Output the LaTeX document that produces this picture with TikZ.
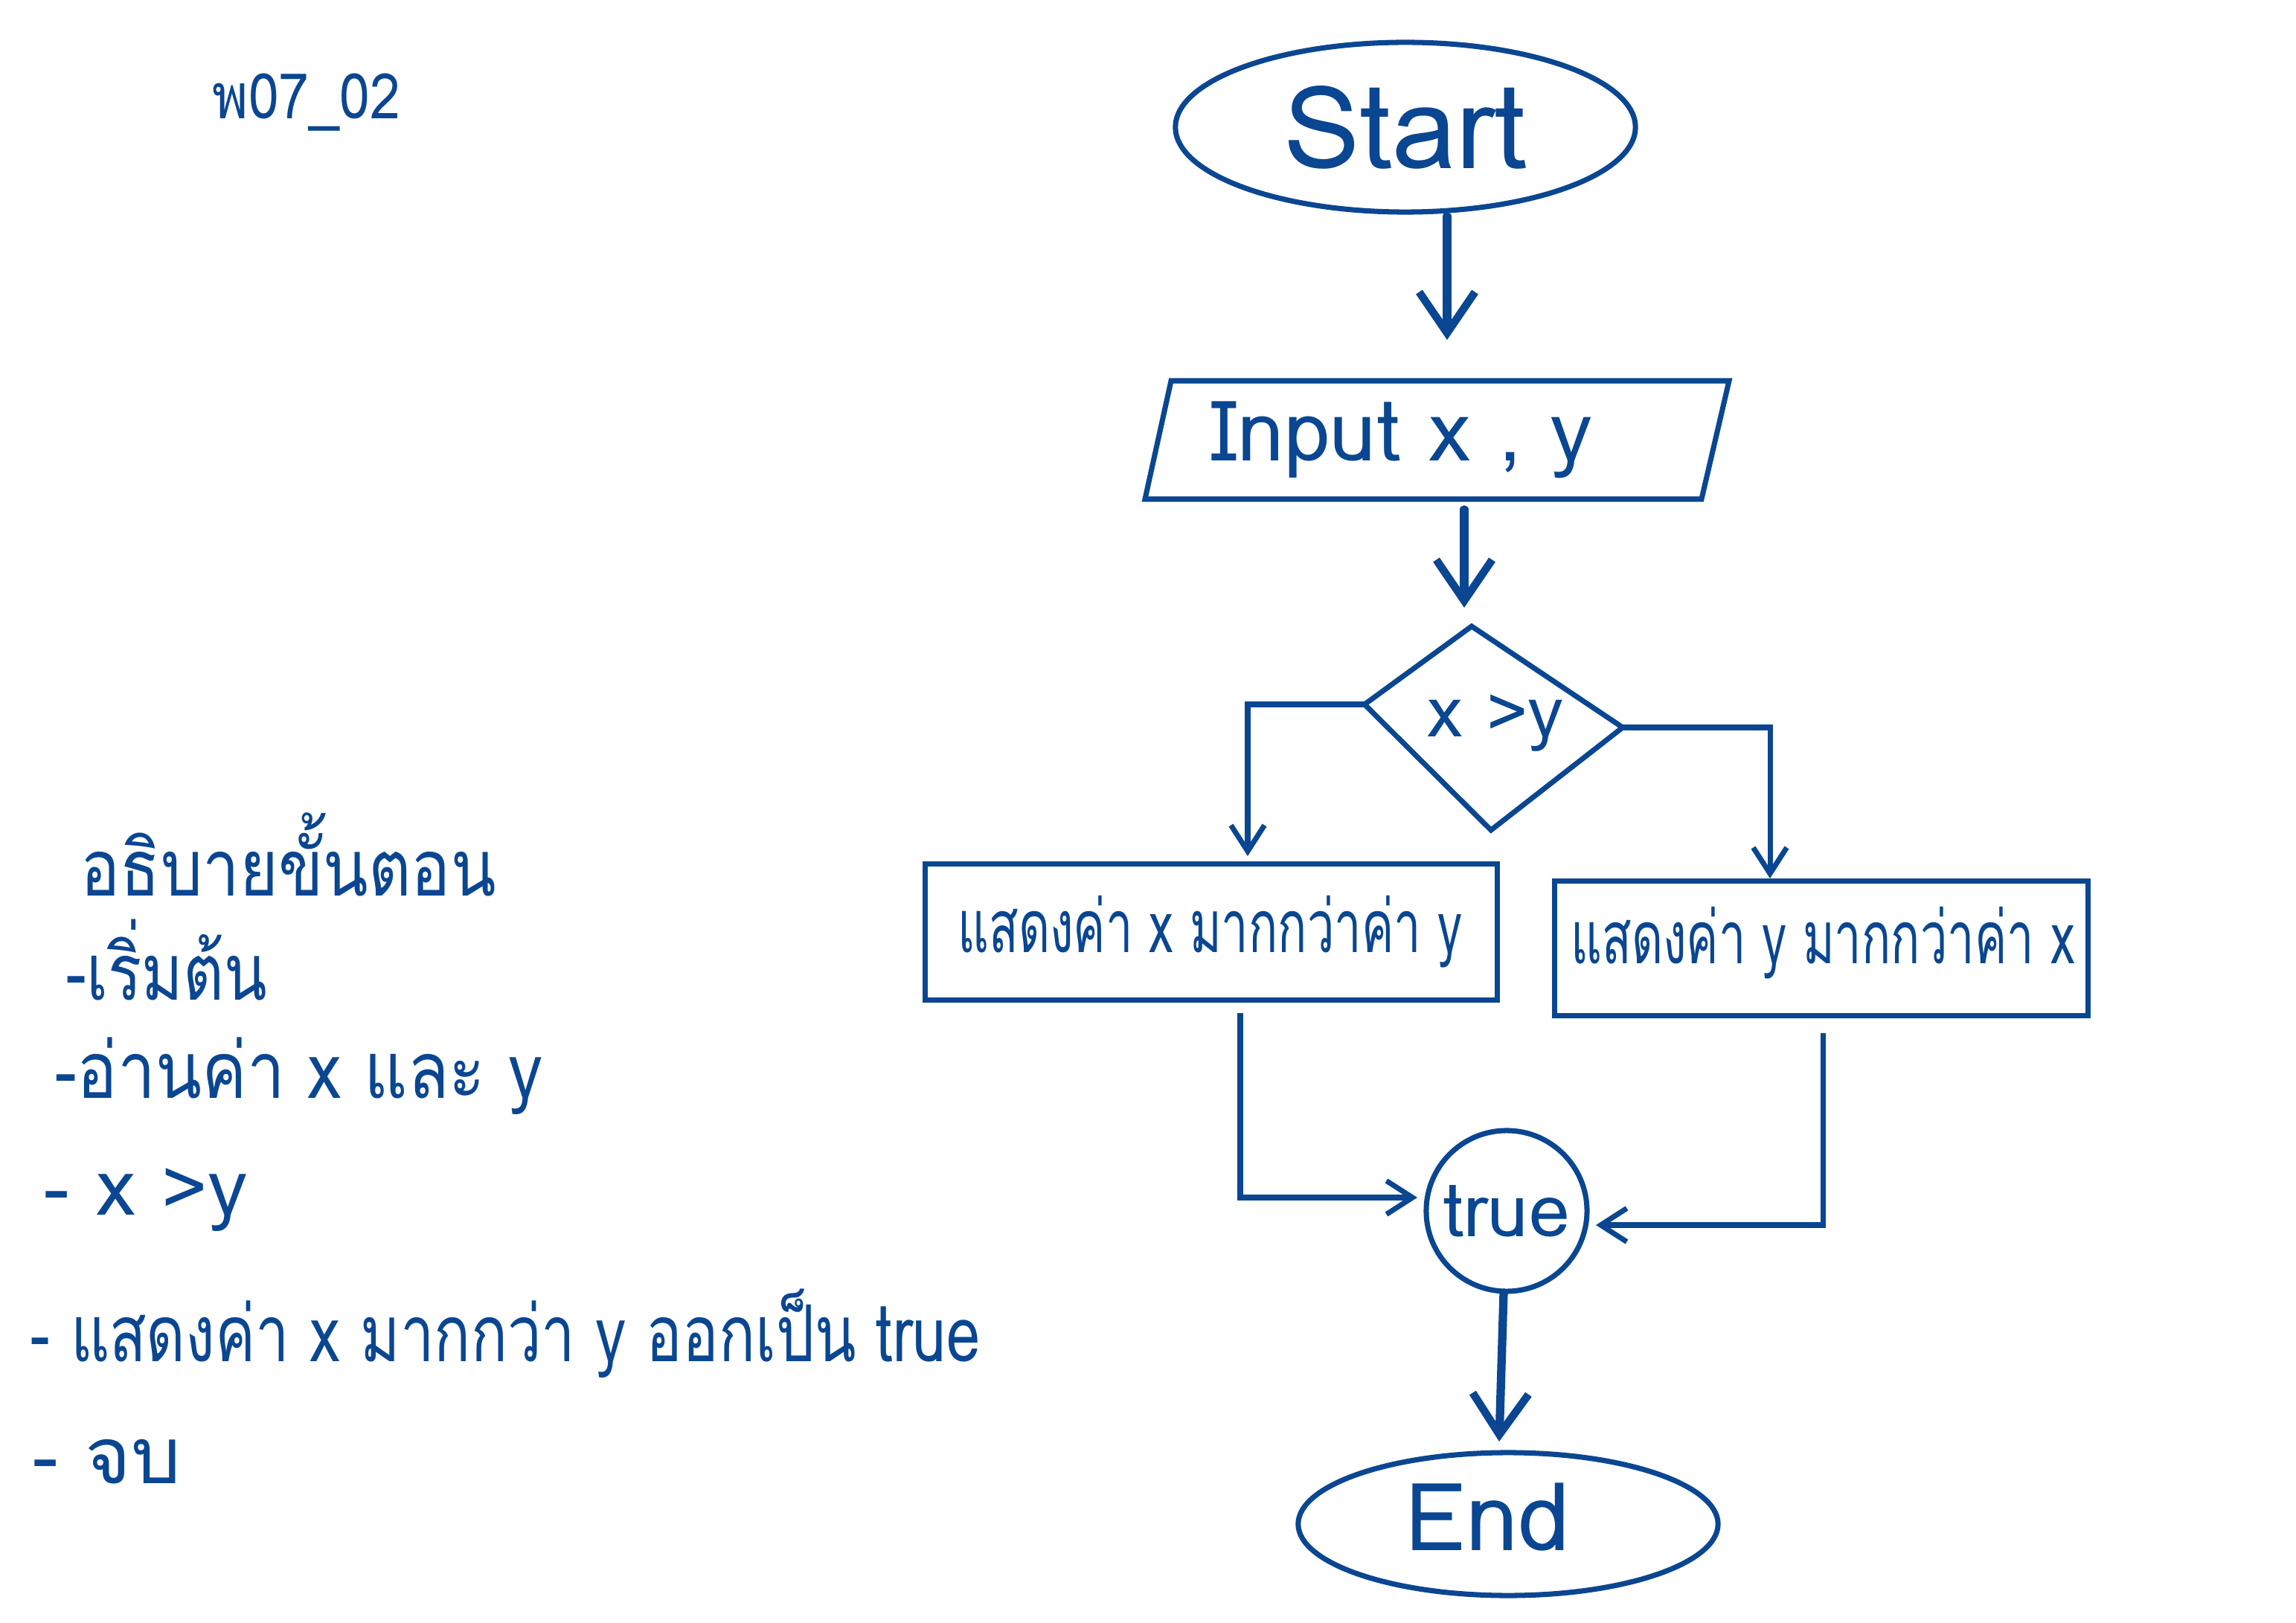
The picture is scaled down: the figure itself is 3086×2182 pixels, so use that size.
\documentclass[tikz,border=0pt]{standalone}
\usepackage{fontspec}
\usetikzlibrary{shapes.geometric,arrows.meta,calc}
\newfontfamily\thaifont[Script=Thai]{Loma}
\definecolor{ink}{RGB}{10,70,145}
\newcommand{\squeeze}[2]{\scalebox{#1}[1]{#2}}
\begin{document}
\begin{tikzpicture}[x=0.01cm,y=-0.01cm,
  every node/.style={text=ink,font=\thaifont},
  shapeline/.style={draw=ink,line width=2pt},
  bigarrow/.style={draw=ink,line width=3.2pt,line cap=round,-{Straight Barb[length=0.55cm,width=0.75cm,line width=3pt]}},
  smallarrow/.style={draw=ink,line width=2pt,-{Straight Barb[length=0.35cm,width=0.45cm,line width=2pt]}},
  note/.style={anchor=base west,inner sep=0pt,font=\thaifont\fontsize{30}{36}\selectfont}]
\fill[white] (0,0) rectangle (3086,2182);
\useasboundingbox (0,0) rectangle (3086,2182);

% left notes
\node[note,font=\thaifont\fontsize{24}{28}\selectfont] (code) at (285,160) {\squeeze{0.87}{พ07\_02}};
\node[note] (n1) at (108,1204) {\squeeze{0.84}{อธิบายขั้นตอน}};
\node[note] (n2) at (88,1344) {\squeeze{0.8}{-เริ่มต้น}};
\node[note] (n3) at (73,1476) {\squeeze{0.86}{-อ่านค่า x และ y}};
\node[note] (n4) at (58,1633) {- x >y};
\node[note] (n5) at (40,1830) {\squeeze{0.77}{- แสดงค่า x มากกว่า y ออกเป็น true}};
\node[note] (n6) at (43,1994) {- จบ};

% start
\node[ellipse,shapeline,minimum width=6.18cm,minimum height=2.28cm,font=\thaifont\fontsize{44}{50}\selectfont] (start) at (1889,171) {Start};

% input parallelogram
\coordinate (pTL) at (1574,512);
\coordinate (pTR) at (2324,512);
\coordinate (pBR) at (2287,671);
\coordinate (pBL) at (1539,671);
\draw[shapeline] (pTL) -- (pTR) -- (pBR) -- (pBL) -- cycle;
\node[font=\thaifont\fontsize{32}{38}\selectfont] (inp) at (1884,591) {Input x , y};

% decision diamond
\coordinate (dT) at (1978,842);
\coordinate (dL) at (1834,947);
\coordinate (dR) at (2181,978);
\coordinate (dB) at (2004,1116);
\draw[shapeline] (dT) -- (dR) -- (dB) -- (dL) -- cycle;
\node[font=\thaifont\fontsize{27}{32}\selectfont] (dec) at (2010,972) {x >y};

% output boxes
\node[rectangle,shapeline,minimum width=7.69cm,minimum height=1.83cm,inner sep=2pt] (lbox) at (1628,1253) {};
\node[font=\thaifont\fontsize{28}{34}\selectfont] (ltext) at (1626,1253) {\squeeze{0.66}{แสดงค่า x มากกว่าค่า y}};
\node[rectangle,shapeline,minimum width=7.16cm,minimum height=1.81cm,inner sep=2pt] (rbox) at (2448,1275) {};
\node[font=\thaifont\fontsize{28}{34}\selectfont] (rtext) at (2450,1268) {\squeeze{0.66}{แสดงค่า y มากกว่าค่า x}};

% connector circle
\node[circle,shapeline,minimum size=2.16cm,inner sep=0pt,font=\thaifont\fontsize{28}{34}\selectfont] (tr) at (2025,1628) {true};

% end
\node[ellipse,shapeline,minimum width=5.64cm,minimum height=1.92cm] (endn) at (2027,2049) {};
\node[font=\thaifont\fontsize{36}{42}\selectfont] (endt) at (2000,2040) {End};

% connector ends
\coordinate (a1s) at (1945,291);
\coordinate (a1e) at (1945,457);
\coordinate (a2s) at (1968,685);
\coordinate (a2e) at (1968,817);
\coordinate (lTop) at (1677,1151);
\coordinate (rTop) at (2379,1181);
\coordinate (lOut) at (1667,1362);
\coordinate (rOut) at (2450,1389);
\coordinate (tIn1) at (1905,1610);
\coordinate (tIn2) at (2145,1647);
\coordinate (a7s) at (2021,1738);
\coordinate (a7e) at (2015,1938);

\draw[bigarrow] (a1s) -- (a1e);
\draw[bigarrow] (a2s) -- (a2e);
\draw[smallarrow] (dL) -| (lTop);
\draw[smallarrow] (dR) -| (rTop);
\draw[smallarrow] (lOut) |- (tIn1);
\draw[smallarrow] (rOut) |- (tIn2);
\draw[bigarrow] (a7s) -- (a7e);
\end{tikzpicture}
\end{document}
